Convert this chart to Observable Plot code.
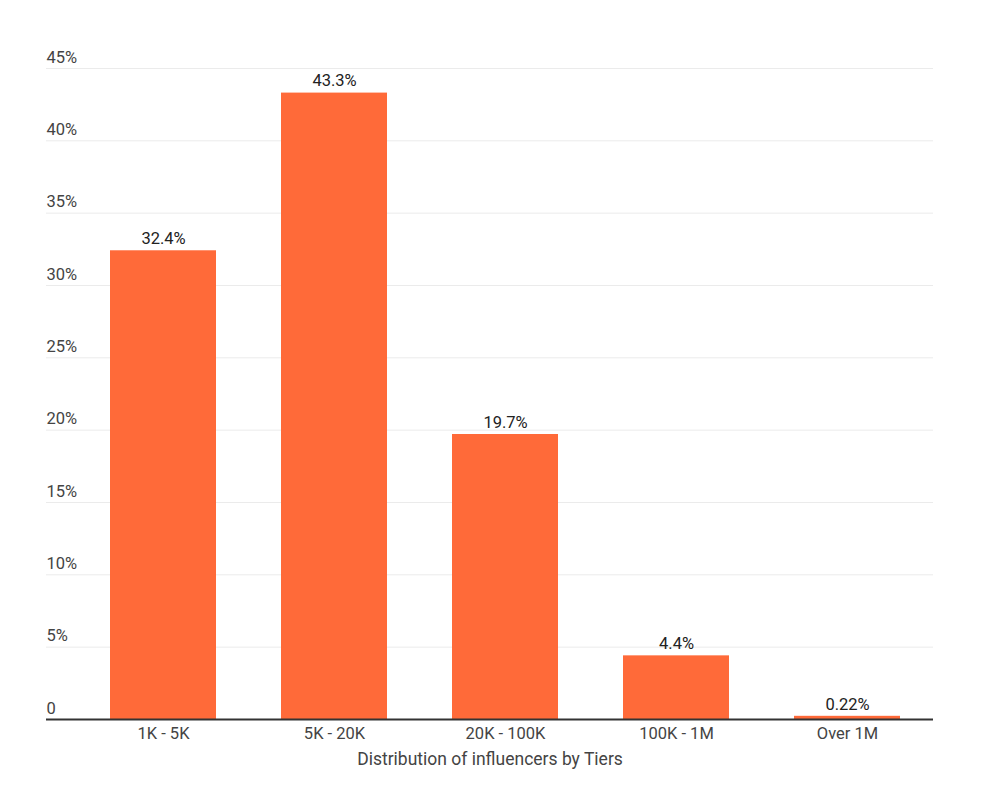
<!DOCTYPE html>
<html>
<head>
<meta charset="utf-8">
<script src="https://cdn.jsdelivr.net/npm/d3@7"></script>
<script src="https://cdn.jsdelivr.net/npm/@observablehq/plot@0.6"></script>
<style>
  html, body { margin: 0; padding: 0; background: #fff; }
  #chart svg { display: block; }
</style>
</head>
<body>
<div id="chart"></div>
<script>
const tiers = ["1K - 5K", "5K - 20K", "20K - 100K", "100K - 1M", "Over 1M"];
const shares = [32.4, 43.3, 19.7, 4.4, 0.22];
const valueLabels = ["32.4%", "43.3%", "19.7%", "4.4%", "0.22%"];
const yTicks = [0, 5, 10, 15, 20, 25, 30, 35, 40, 45];
const yTickLabels = ["0", "5%", "10%", "15%", "20%", "25%", "30%", "35%", "40%", "45%"];
const xTitle = "Distribution of influencers by Tiers";

const data = tiers.map((t, i) => ({tier: t, value: shares[i], label: valueLabels[i]}));
const ticks = yTicks.map((v, i) => ({v, label: yTickLabels[i]}));

const chart = Plot.plot({
  width: 1000,
  height: 791,
  marginLeft: 46,
  marginRight: 67,
  marginTop: 68,
  marginBottom: 72,
  style: {fontFamily: "Roboto, sans-serif", fontSize: "16.5px", background: "#fff"},
  x: {domain: tiers, range: [77, 933], paddingInner: 0.38, paddingOuter: 0.19, axis: null},
  y: {domain: [0, 45], axis: null},
  marks: [
    Plot.ruleY(yTicks.filter(d => d > 0), {stroke: "#ebebeb", strokeWidth: 1}),
    Plot.barY(data, {x: "tier", y: "value", fill: "#FF6A39"}),
    Plot.ruleY([0], {stroke: "#333", strokeWidth: 2}),
    Plot.text(ticks, {y: "v", text: "label", frameAnchor: "left", textAnchor: "start", dy: -11, fill: "#444", fontSize: 16.5}),
    Plot.text(data, {x: "tier", y: "value", text: "label", dy: -12, fill: "#222", fontSize: 16.5}),
    Plot.axisX({domain: tiers, tickSize: 0, tickPadding: 8, label: null, fontSize: 16.5, color: "#444"}),
    Plot.text([xTitle], {frameAnchor: "bottom", lineAnchor: "middle", dy: 40, fill: "#444", fontSize: 17.5})
  ]
});
document.getElementById("chart").appendChild(chart);
</script>
</body>
</html>
